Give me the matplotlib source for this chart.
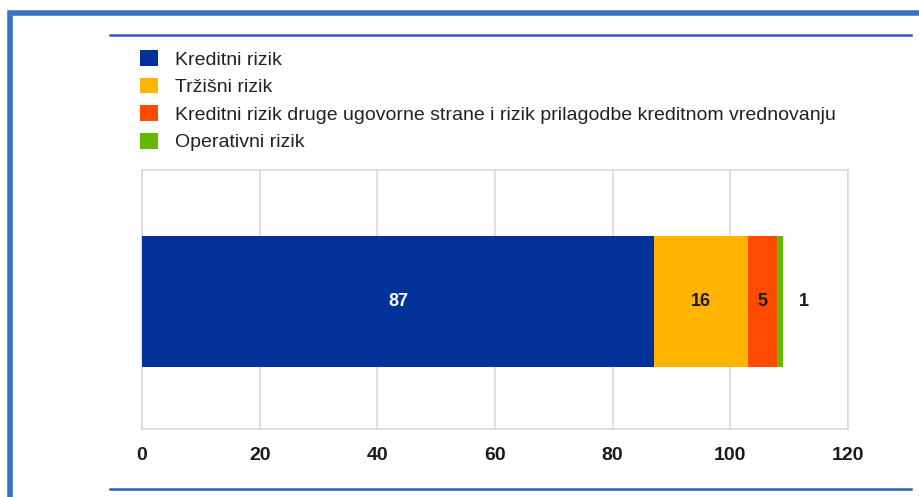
import matplotlib.pyplot as plt
from matplotlib.patches import Patch, Rectangle
from matplotlib.lines import Line2D

# data
categories = ['Kreditni rizik',
              'Tržišni rizik',
              'Kreditni rizik druge ugovorne strane i rizik prilagodbe kreditnom vrednovanju',
              'Operativni rizik']
values = [87, 16, 5, 1]
colors = ['#003299', '#FFB400', '#FF4B00', '#65B800']
label_colors = ['white', '#1a1a1a', '#1a1a1a', '#1a1a1a']
xticks = [0, 20, 40, 60, 80, 100, 120]

plt.rcParams['font.family'] = ['Liberation Sans', 'DejaVu Sans']

W, H = 920, 497
fig = plt.figure(figsize=(W / 100, H / 100), dpi=100)
ax = fig.add_axes([142 / W, 1 - 429 / H, (848 - 142) / W, (429 - 170) / H])

# stacked horizontal bar
left = 0
for i, v in enumerate(values):
    bars = ax.barh(0, v, left=left, height=0.505, color=colors[i], zorder=3)
    if i < len(values) - 1:
        ax.bar_label(bars, labels=[str(v)], label_type='center',
                     color=label_colors[i], fontsize=13, fontweight='bold')
    else:
        ax.bar_label(bars, labels=[str(v)], label_type='edge', padding=11,
                     color=label_colors[i], fontsize=13, fontweight='bold')
    left += v

ax.set_xlim(0, 120)
ax.set_ylim(-0.492, 0.508)
ax.set_xticks(xticks)
ax.set_xticklabels([str(t) for t in xticks], fontsize=14, fontweight='bold', color='#1a1a1a')
ax.set_yticks([])
ax.tick_params(axis='x', length=0, pad=13)
ax.grid(axis='x', color='#d9d9d9', linewidth=1.2, zorder=0)
for s in ax.spines.values():
    s.set_color('#d9d9d9')
    s.set_linewidth(1.2)

# legend
handles = [Patch(facecolor=c, edgecolor='none') for c in colors]
fig.legend(handles, categories, loc='upper left',
           bbox_to_anchor=(140 / W, 1 - 50 / H), frameon=False,
           fontsize=14, handlelength=0.93, handleheight=0.88,
           handletextpad=0.88, labelspacing=0.46, borderpad=0,
           borderaxespad=0, labelcolor='#222222')

# decorative lines and frame
fig.add_artist(Line2D([110 / W, 911 / W], [1 - 35 / H, 1 - 35 / H],
                      transform=fig.transFigure, color='#2f5db3', linewidth=1.8))
fig.add_artist(Line2D([110 / W, 911 / W], [1 - 489 / H, 1 - 489 / H],
                      transform=fig.transFigure, color='#2f5db3', linewidth=1.8))
fig.add_artist(Rectangle((10.5 / W, -0.1), 1.2, 1 - 12.5 / H + 0.1,
                         transform=fig.transFigure, fill=False,
                         edgecolor='#3a73bf', linewidth=4))

fig.savefig('out.png', dpi=100)
